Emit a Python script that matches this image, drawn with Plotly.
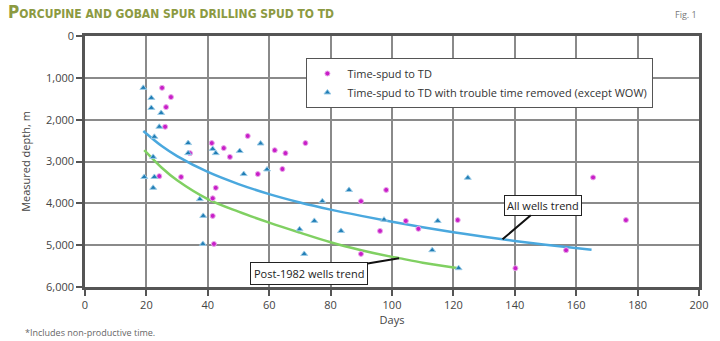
import plotly.graph_objects as go

# Time-spud to TD (days, measured depth m)
spud_days = [25.1, 28.0, 26.4, 26.1, 24.2, 31.3, 34.2, 41.3, 45.2, 47.2, 42.6, 41.6,
             41.6, 42.0, 53.0, 61.8, 65.3, 71.8, 56.3, 64.3, 98.1, 89.9, 104.5, 108.6,
             96.1, 89.9, 121.4, 176.2, 156.7, 140.2, 165.5]
spud_depth = [1240, 1460, 1700, 2170, 3350, 3370, 2800, 2560, 2680, 2890, 3630, 3880,
              4300, 4970, 2390, 2730, 2800, 2560, 3300, 3180, 3680, 3950, 4420, 4610,
              4660, 5210, 4400, 4400, 5120, 5550, 3380]

# Time-spud to TD with trouble time removed (except WOW)
clean_days = [19.0, 21.6, 21.6, 24.8, 24.2, 22.6, 22.2, 19.3, 22.6, 22.2, 33.6, 33.6,
              41.6, 42.6, 50.4, 57.2, 51.7, 59.3, 37.4, 38.5, 38.4, 86.0, 77.3, 74.7,
              69.9, 83.4, 71.4, 97.4, 114.9, 113.1, 121.7, 124.7]
clean_depth = [1240, 1480, 1720, 1840, 2170, 2410, 2890, 3370, 3370, 3630, 2560, 2800,
               2700, 2800, 2750, 2570, 3300, 3190, 3900, 4300, 4970, 3680, 3950, 4420,
               4620, 4660, 5210, 4390, 4420, 5120, 5550, 3390]

# Trend curves
all_trend_days = [19, 25, 30, 40, 50, 60, 70, 80, 90, 100, 110, 120, 130, 136, 140, 150, 165]
all_trend_depth = [2270, 2630, 2870, 3250, 3540, 3780, 3980, 4150, 4300, 4440, 4570,
                   4690, 4800, 4860, 4900, 4990, 5110]
post_trend_days = [19.3, 25, 30, 40, 50, 60, 70, 80, 90, 100, 102.3, 110, 121.7]
post_trend_depth = [2730, 3150, 3450, 3900, 4200, 4460, 4700, 4930, 5120, 5280, 5310,
                    5420, 5550]

x_ticks = list(range(0, 201, 20))
y_ticks = list(range(0, 6001, 1000))

MAGENTA = "#c81ec8"
BLUE_PTS = "#1f7db5"
BLUE_LINE = "#4aa8de"
GREEN_LINE = "#80d062"
GRID = "#8a8a8a"
AXIS = "#555555"
TEXT = "#444444"
FONT = "Open Sans, Liberation Sans, sans-serif"

fig = go.Figure()

fig.add_trace(go.Scatter(
    x=all_trend_days, y=all_trend_depth, mode="lines", line_shape="spline",
    line=dict(color=BLUE_LINE, width=2.5), showlegend=False, hoverinfo="skip"))
fig.add_trace(go.Scatter(
    x=post_trend_days, y=post_trend_depth, mode="lines", line_shape="spline",
    line=dict(color=GREEN_LINE, width=2.5), showlegend=False, hoverinfo="skip"))

fig.add_trace(go.Scatter(
    x=spud_days, y=spud_depth, mode="markers", name="Time-spud to TD",
    marker=dict(symbol="circle", size=5, color=MAGENTA,
                line=dict(color="#e9a6e9", width=1))))
fig.add_trace(go.Scatter(
    x=clean_days, y=clean_depth, mode="markers",
    name="Time-spud to TD with trouble time removed (except WOW)",
    marker=dict(symbol="triangle-up", size=6, color=BLUE_PTS,
                line=dict(color="#9ccbe6", width=1))))

axis_common = dict(
    showgrid=True, gridcolor=GRID, gridwidth=2,
    showline=True, linecolor=AXIS, linewidth=2.5, mirror=True,
    ticks="outside", ticklen=6, tickwidth=2, tickcolor=AXIS,
    tickfont=dict(family=FONT, size=11, color=TEXT),
    zeroline=False,
)

fig.update_xaxes(range=[0, 200], tickvals=x_ticks,
                 title=dict(text="Days", font=dict(family=FONT, size=11, color=TEXT),
                            standoff=4),
                 **axis_common)
fig.update_yaxes(range=[6000, 0], tickvals=y_ticks, tickformat=",",
                 title=dict(text="Measured depth, m",
                            font=dict(family=FONT, size=11, color=TEXT), standoff=14),
                 **axis_common)

# Trend labels with leader lines to a point on each curve
fig.add_annotation(x=all_trend_days[13], y=all_trend_depth[13],
                   text="All wells trend", showarrow=True, arrowhead=0,
                   arrowwidth=2, arrowcolor="#111111", ax=40, ay=-34,
                   bgcolor="white", bordercolor="#222222", borderwidth=1, borderpad=2,
                   font=dict(family=FONT, size=11, color="#222222"))
fig.add_annotation(x=post_trend_days[10], y=post_trend_depth[10],
                   text="Post-1982 wells trend", showarrow=True, arrowhead=0,
                   arrowwidth=2, arrowcolor="#111111", ax=-90, ay=15,
                   bgcolor="white", bordercolor="#222222", borderwidth=1, borderpad=3,
                   font=dict(family=FONT, size=11, color="#222222"))

# Title, figure number, footnote
fig.add_annotation(
    xref="paper", yref="paper", x=-0.1288, y=1.0956, xanchor="left", yanchor="middle",
    text=("<b><span style='font-size:17px'>P</span>ORCUPINE AND GOBAN SPUR "
          "DRILLING SPUD TO TD</b>"),
    showarrow=False,
    font=dict(family="Liberation Sans Narrow, DejaVu Sans Condensed, sans-serif",
              size=12, color="#8c9a42"))
fig.add_annotation(xref="paper", yref="paper", x=1.0, y=1.0876, xanchor="right",
                   yanchor="middle", text="Fig. 1", showarrow=False,
                   font=dict(family=FONT, size=9, color="#777777"))
fig.add_annotation(xref="paper", yref="paper", x=-0.1013, y=-0.183, xanchor="left",
                   yanchor="middle", text="*Includes non-productive time.",
                   showarrow=False, font=dict(family=FONT, size=9, color="#666666"))

fig.update_layout(
    width=720, height=341,
    margin=dict(l=84.5, r=18.5, t=36, b=54),
    paper_bgcolor="white", plot_bgcolor="white",
    legend=dict(x=0.3606, y=0.9124, xanchor="left", yanchor="top",
                bgcolor="white", bordercolor="#555555", borderwidth=1,
                font=dict(family=FONT, size=11, color="#333333"),
                tracegroupgap=0),
    showlegend=True,
)

fig.write_html("out.html")
